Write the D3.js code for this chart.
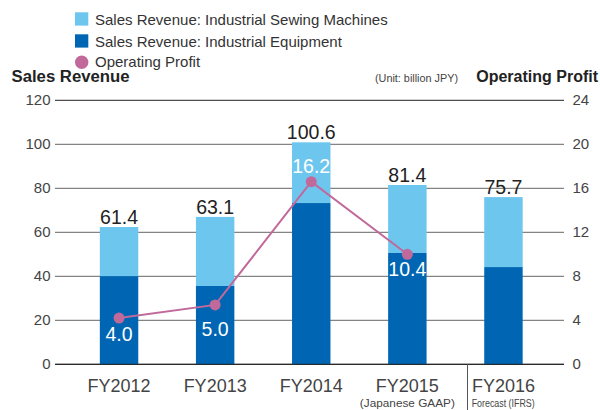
<!DOCTYPE html>
<html>
<head>
<meta charset="utf-8">
<script src="https://cdn.jsdelivr.net/npm/d3@7"></script>
<style>
  html, body { margin: 0; padding: 0; background: #fff; }
  svg { display: block; font-family: "Liberation Sans", Arial, sans-serif; }
</style>
</head>
<body>
<svg id="chart" width="600" height="410"></svg>
<script>
// ---- data ----
const categories = ["FY2012", "FY2013", "FY2014", "FY2015", "FY2016"];
const subLabels = ["", "", "", "(Japanese GAAP)", "Forecast (IFRS)"];
const equipment = [40.1, 35.6, 73.3, 50.6, 44.2];
const sewing = [22.3, 31.4, 27.6, 30.9, 31.8];
const totalLabels = ["61.4", "63.1", "100.6", "81.4", "75.7"];
const profitCats = ["FY2012", "FY2013", "FY2014", "FY2015"];
const profit = [4.2, 5.4, 16.6, 10.0];
const profitLabels = ["4.0", "5.0", "16.2", "10.4"];
const profitLabelDy = [23, 31, -9, 22];
const leftTicks = [0, 20, 40, 60, 80, 100, 120];
const rightTicks = [0, 4, 8, 12, 16, 20, 24];
const legendItems = ["Sales Revenue: Industrial Sewing Machines", "Sales Revenue: Industrial Equipment", "Operating Profit"];

// ---- styles ----
const cLight = "#6dc6ee", cDark = "#0066b3", cPink = "#c1699b";
const svg = d3.select("#chart");

const x = d3.scaleBand().domain(categories).range([71, 551.5]).paddingInner(0.6).paddingOuter(0.3);
const yL = d3.scaleLinear().domain([0, 120]).range([364.3, 100.3]);
const yR = d3.scaleLinear().domain([0, 24]).range([364.3, 100.3]);

// gridlines
svg.append("g").selectAll("line").data(leftTicks).join("line")
  .attr("x1", 55).attr("x2", 564)
  .attr("y1", d => yL(d)).attr("y2", d => yL(d))
  .attr("stroke", d => (d === 0 || d === 120) ? "#222" : "#666")
  .attr("stroke-width", 1);

// left tick labels
svg.append("g").selectAll("text").data(leftTicks).join("text")
  .attr("x", 50.5).attr("y", d => yL(d) + 5)
  .attr("text-anchor", "end").attr("font-size", 15).attr("fill", "#444")
  .text(d => d);

// right tick labels
svg.append("g").selectAll("text").data(rightTicks).join("text")
  .attr("x", 572.5).attr("y", d => yR(d) + 5)
  .attr("text-anchor", "start").attr("font-size", 15).attr("fill", "#444")
  .text(d => d);

// bars
const bw = x.bandwidth();
const cx = c => x(c) + bw / 2;
svg.append("g").selectAll("rect").data(categories).join("rect")
  .attr("x", d => x(d)).attr("width", bw)
  .attr("y", (d, i) => yL(equipment[i])).attr("height", (d, i) => yL(0) - yL(equipment[i]))
  .attr("fill", cDark);
svg.append("g").selectAll("rect").data(categories).join("rect")
  .attr("x", d => x(d)).attr("width", bw)
  .attr("y", (d, i) => yL(equipment[i] + sewing[i])).attr("height", (d, i) => yL(equipment[i]) - yL(equipment[i] + sewing[i]))
  .attr("fill", cLight);

// redraw baseline over bars
svg.append("line").attr("x1", 55).attr("x2", 564).attr("y1", yL(0)).attr("y2", yL(0)).attr("stroke", "#222");

// total labels
svg.append("g").selectAll("text").data(categories).join("text")
  .attr("x", d => cx(d)).attr("y", (d, i) => yL(equipment[i] + sewing[i]) - 3)
  .attr("text-anchor", "middle").attr("font-size", 19.5).attr("fill", "#222")
  .text((d, i) => totalLabels[i]);

// profit line
const line = d3.line().x((d, i) => cx(profitCats[i])).y(d => yR(d));
svg.append("path").datum(profit).attr("d", line)
  .attr("fill", "none").attr("stroke", cPink).attr("stroke-width", 2);
svg.append("g").selectAll("circle").data(profit).join("circle")
  .attr("cx", (d, i) => cx(profitCats[i])).attr("cy", d => yR(d)).attr("r", 5.5)
  .attr("fill", cPink);
svg.append("g").selectAll("text").data(profit).join("text")
  .attr("x", (d, i) => cx(profitCats[i])).attr("y", (d, i) => yR(d) + profitLabelDy[i])
  .attr("text-anchor", "middle").attr("font-size", 19.5).attr("fill", "#fff")
  .text((d, i) => profitLabels[i]);

// category labels
svg.append("g").selectAll("text").data(categories).join("text")
  .attr("x", d => cx(d)).attr("y", 391.5)
  .attr("text-anchor", "middle").attr("font-size", 18).attr("fill", "#444")
  .text(d => d);
svg.append("text").attr("x", cx("FY2015")).attr("y", 406.5)
  .attr("text-anchor", "middle").attr("font-size", 11.5).attr("fill", "#444")
  .attr("textLength", 95).attr("lengthAdjust", "spacingAndGlyphs")
  .text(subLabels[3]);
svg.append("text").attr("x", 471.7).attr("y", 406.5)
  .attr("text-anchor", "start").attr("font-size", 10.5).attr("fill", "#444")
  .attr("textLength", 63).attr("lengthAdjust", "spacingAndGlyphs")
  .text(subLabels[4]);
// separator
svg.append("line").attr("x1", 467.5).attr("x2", 467.5).attr("y1", yL(0)).attr("y2", 410)
  .attr("stroke", "#555").attr("stroke-width", 1);

// titles
svg.append("text").attr("x", 11.5).attr("y", 81.7).attr("font-size", 16).attr("font-weight", "bold").attr("fill", "#222")
  .attr("textLength", 118).attr("lengthAdjust", "spacingAndGlyphs").text("Sales Revenue");
svg.append("text").attr("x", 598).attr("y", 81.7).attr("text-anchor", "end").attr("font-size", 16).attr("font-weight", "bold").attr("fill", "#222")
  .text("Operating Profit");
svg.append("text").attr("x", 375).attr("y", 81.7).attr("font-size", 11.5).attr("fill", "#444")
  .attr("textLength", 83).attr("lengthAdjust", "spacingAndGlyphs").text("(Unit: billion JPY)");

// legend
const lg = svg.append("g");
lg.append("rect").attr("x", 75).attr("y", 12.3).attr("width", 13.3).attr("height", 13.3).attr("fill", cLight);
lg.append("rect").attr("x", 75).attr("y", 34.3).attr("width", 13.3).attr("height", 13.3).attr("fill", cDark);
lg.append("circle").attr("cx", 81.7).attr("cy", 62.3).attr("r", 6.7).attr("fill", cPink);
lg.selectAll("text").data(legendItems).join("text")
  .attr("x", 95).attr("y", (d, i) => [25, 46.7, 67][i])
  .attr("font-size", 15).attr("fill", "#333")
  .text(d => d);
</script>
</body>
</html>
